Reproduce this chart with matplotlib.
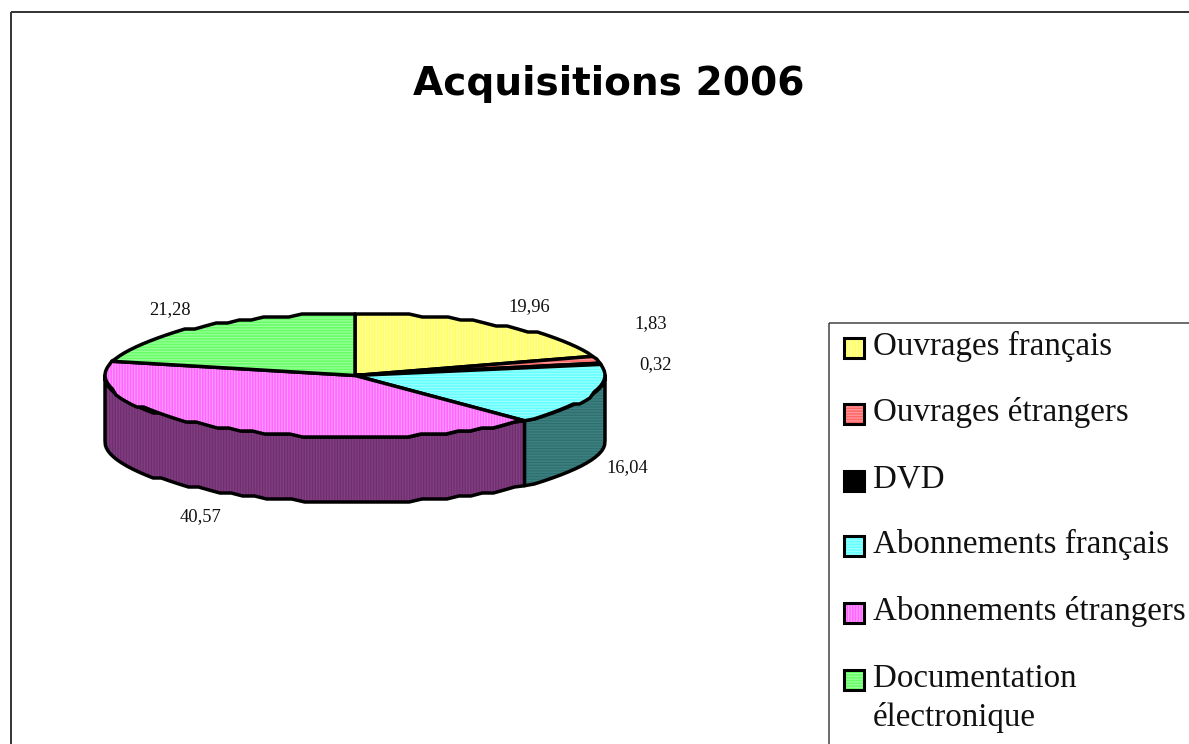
import numpy as np
import matplotlib
matplotlib.use("Agg")
import matplotlib.pyplot as plt
from matplotlib.patches import Polygon, Rectangle

categories = ["Ouvrages français", "Ouvrages étrangers", "DVD", "Abonnements français",
              "Abonnements étrangers", "Documentation\nélectronique"]
values = [19.96, 1.83, 0.32, 16.04, 40.57, 21.28]
value_labels = ["19,96", "1,83", "0,32", "16,04", "40,57", "21,28"]
top_colors = ["#ffff66", "#ff6666", "#000000", "#66ffff", "#ff66ff", "#66ff66"]
stripe_colors = ["#ffff99", "#ff9999", "#000000", "#99ffff", "#ff99ff", "#99ff99"]
side_colors = ["#808033", "#803333", "#000000", "#3d8080", "#803d80", "#338033"]
side_stripes = ["#707028", "#702828", "#000000", "#2f6f6f", "#6f2f6f", "#287028"]
hatches = ["|" * 6, "-" * 6, "", "-" * 6, "|" * 6, "-" * 6]

# pie geometry, in picture pixels
cx, cy = 355, 375.5
rx, ry = 250, 61.5
depth = 65

label_pos = [(529, 307), (651, 324), (655, 365), (627, 468), (200, 517), (170, 310)]
legend_y = [347.5, 414, 481, 545.5, 613, 680]

plt.rcParams["hatch.linewidth"] = 0.9
fig = plt.figure(figsize=(11.89, 7.44), dpi=100)
ax = fig.add_axes([0, 0, 1, 1])
ax.set_xlim(0, 1189)
ax.set_ylim(744, 0)
ax.axis("off")

# outer frame and legend box run off the right and bottom edges
ax.add_patch(Rectangle((11, 12), 1300, 900, fill=False, ec="#333333", lw=1.4))
ax.add_patch(Rectangle((828.5, 323), 500, 600, fill=False, ec="#444444", lw=1.1))


def arc(a, b):
    # angles in degrees, clockwise from 12 o'clock; the rim is stepped as in the scan
    n = max(2, int(abs(b - a) / 3) + 1)
    t = np.radians(np.linspace(a, b, n))
    x = cx + rx * np.sin(t)
    y = cy - ry * np.cos(t)
    top = cy - ry
    y[1:-1] = top + np.round((y[1:-1] - top) / 3) * 3
    return x, y


def striped(points, color, stripe, hatch):
    ax.add_patch(Polygon(points, closed=True, fc=color, ec=stripe, hatch=hatch, lw=0))
    ax.add_patch(Polygon(points, closed=True, fill=False, ec="black", lw=2.5, joinstyle="round"))


edges = np.concatenate([[0], np.cumsum(values)]) * 3.6

# side wall, only the front half (90 to 270 degrees) shows
for i in range(len(values)):
    a, b = max(edges[i], 90), min(edges[i + 1], 270)
    if a >= b:
        continue
    x, y = arc(a, b)
    pts = np.column_stack([np.r_[x, x[::-1]], np.r_[y, y[::-1] + depth]])
    striped(pts, side_colors[i], side_stripes[i], hatches[i])

# top face
for i in range(len(values)):
    x, y = arc(edges[i], edges[i + 1])
    pts = np.column_stack([np.r_[cx, x], np.r_[cy, y]])
    striped(pts, top_colors[i], stripe_colors[i], hatches[i])

for (x, y), text in zip(label_pos, value_labels):
    ax.text(x, y, text, family="Liberation Serif", fontsize=13.3, ha="center", va="center",
            color="#111111")

ax.text(609, 84, "Acquisitions 2006", family="DejaVu Sans", weight="bold", fontsize=28.2,
        ha="center", va="center", color="black")

for i, y in enumerate(legend_y):
    ax.add_patch(Rectangle((843.5, y - 10), 20, 20, fc=top_colors[i], ec=stripe_colors[i],
                           hatch=hatches[i], lw=0))
    ax.add_patch(Rectangle((843.5, y - 10), 20, 20, fill=False, ec="black", lw=2.2))
    lines = categories[i].split("\n")
    for k, line in enumerate(lines):
        ax.text(873, y + 7 + k * 39, line, family="Liberation Serif", fontsize=23.8,
                ha="left", va="baseline", color="#111111", clip_on=True)

fig.savefig("out.png", dpi=100)
